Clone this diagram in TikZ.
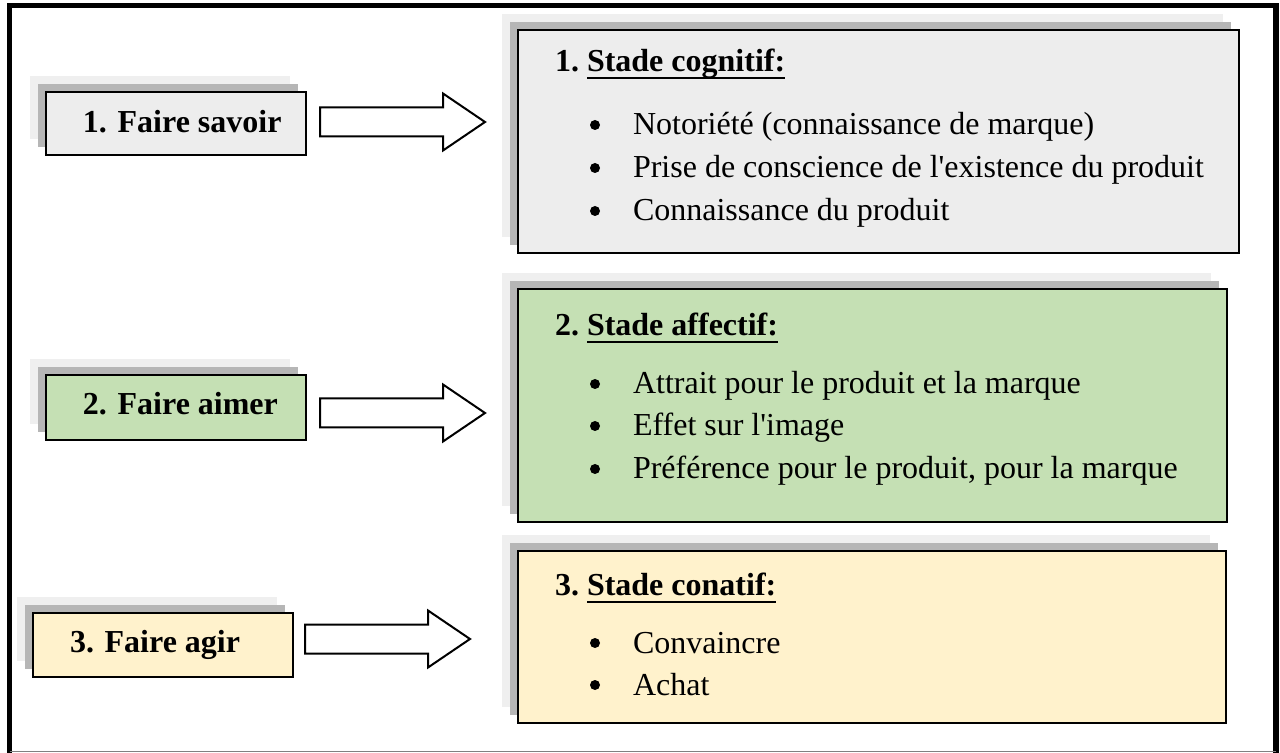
\documentclass[tikz,border=0pt]{standalone}
\usepackage{fontspec}
\setmainfont{Liberation Serif}[Ligatures=TeXOff]
\usetikzlibrary{shadows}

\definecolor{boxgrey}{HTML}{EDEDED}
\definecolor{boxgreen}{HTML}{C5E0B4}
\definecolor{boxyellow}{HTML}{FFF2CC}
\definecolor{shadedark}{HTML}{B6B6B6}
\definecolor{shadelight}{HTML}{EFEFEF}

\tikzset{
  stagebox/.style={draw=black, line width=1.3pt, inner sep=0pt, outer sep=0pt,
    anchor=north west,
    general shadow={shadow xshift=-8pt, shadow yshift=8pt, fill=shadelight, draw=none},
    general shadow={shadow xshift=-4pt, shadow yshift=4pt, fill=shadedark, draw=none}},
  txt/.style={inner sep=0pt, outer sep=0pt, anchor=base west,
    font=\fontsize{16}{21}\selectfont},
  boldtxt/.style={txt, font=\fontsize{16}{21}\selectfont\bfseries},
  uline/.style={line width=1.3pt},
  dot/.style={circle, fill=black, inner sep=0pt, minimum size=5pt},
  arrowline/.style={draw=black, fill=white, line width=1pt, line join=miter},
  blockarrow/.pic={
    \draw[arrowline] (0,-14.5) -- (123,-14.5) -- (123,-28.5) -- (165,0)
      -- (123,28.5) -- (123,14.5) -- (0,14.5) -- cycle;
  }
}

\begin{document}
\begin{tikzpicture}[x=0.5pt, y=-0.5pt]
\useasboundingbox (0,0) rectangle (1280,753);

% outer frame
\draw[line width=2.6pt] (9.5,753) -- (9.5,5.5) -- (1276,5.5) -- (1276,753);
\draw[gray, line width=0.8pt] (9.5,751.5) -- (1276,751.5);

% left column: the three objectives
\node[stagebox, fill=boxgrey, minimum width=130pt, minimum height=31.5pt] (L1) at (46,92) {};
\node[stagebox, fill=boxgreen, minimum width=130pt, minimum height=32.5pt] (L2) at (46,375) {};
\node[stagebox, fill=boxyellow, minimum width=130pt, minimum height=32pt] (L3) at (33,613) {};

\node[boldtxt] (t1) at (83,133) {1. Faire savoir};
\node[boldtxt] (t2) at (83,415) {2. Faire aimer};
\node[boldtxt] (t3) at (70,652) {3. Faire agir};

% right column: the three stages
\node[stagebox, fill=boxgrey, minimum width=360.5pt, minimum height=111.5pt] (R1) at (518,30) {};
\node[stagebox, fill=boxgreen, minimum width=354.5pt, minimum height=116.5pt] (R2) at (518,289) {};
\node[stagebox, fill=boxyellow, minimum width=354pt, minimum height=86pt] (R3) at (518,551) {};

% block arrows between the columns
\coordinate (a1) at (320,122);
\coordinate (a2) at (320,413);
\coordinate (a3) at (305,639);
\pic at (a1) {blockarrow};
\pic at (a2) {blockarrow};
\pic at (a3) {blockarrow};

% stage headings: number, then underlined title
\node[boldtxt] (n1) at (555,72) {1.};
\node[boldtxt] (h1) at ([xshift=4pt]n1.base east) {Stade cognitif:};
\draw[uline] ([yshift=-3pt]h1.base west) -- ([yshift=-3pt]h1.base east);
\node[boldtxt] (n2) at (555,336) {2.};
\node[boldtxt] (h2) at ([xshift=4pt]n2.base east) {Stade affectif:};
\draw[uline] ([yshift=-3pt]h2.base west) -- ([yshift=-3pt]h2.base east);
\node[boldtxt] (n3) at (555,596) {3.};
\node[boldtxt] (h3) at ([xshift=4pt]n3.base east) {Stade conatif:};
\draw[uline] ([yshift=-3pt]h3.base west) -- ([yshift=-3pt]h3.base east);

% stage 1
\node[dot] (b11) at (595,125) {};
\node[txt] (i11) at (633,135) {Notoriété (connaissance de marque)};
\node[dot] (b12) at (595,168) {};
\node[txt] (i12) at (633,178) {Prise de conscience de l'existence du produit};
\node[dot] (b13) at (595,211) {};
\node[txt] (i13) at (633,221) {Connaissance du produit};

% stage 2
\node[dot] (b21) at (595,384) {};
\node[txt] (i21) at (633,394) {Attrait pour le produit et la marque};
\node[dot] (b22) at (595,426) {};
\node[txt] (i22) at (633,436) {Effet sur l'image};
\node[dot] (b23) at (595,469) {};
\node[txt] (i23) at (633,479) {Préférence pour le produit, pour la marque};

% stage 3
\node[dot] (b31) at (595,643) {};
\node[txt] (i31) at (633,653) {Convaincre};
\node[dot] (b32) at (595,685) {};
\node[txt] (i32) at (633,695) {Achat};
\end{tikzpicture}
\end{document}
